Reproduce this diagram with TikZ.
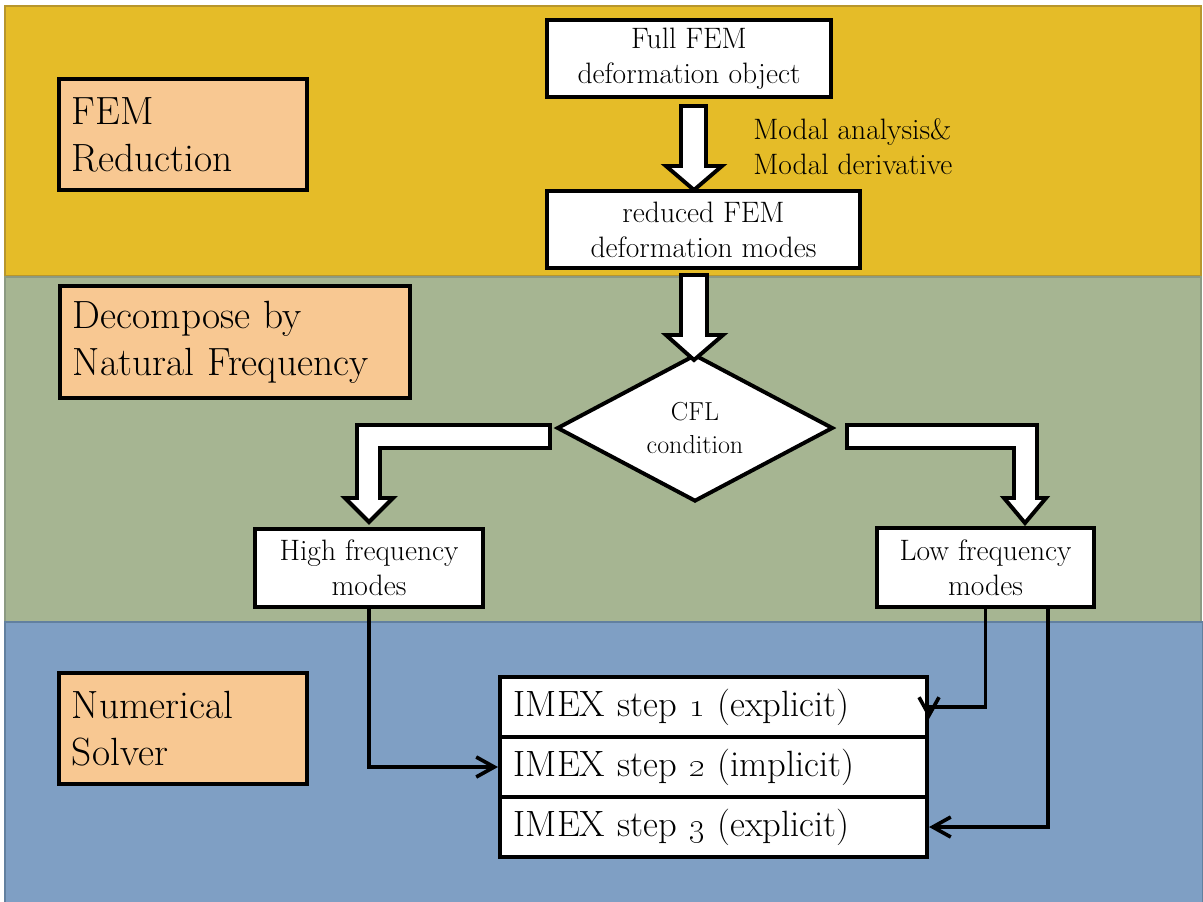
\documentclass[tikz,border=0pt]{standalone}
\usetikzlibrary{arrows.meta,calc,shapes.geometric}
\definecolor{bandY}{HTML}{E5BC28}
\definecolor{bandYline}{HTML}{B8962C}
\definecolor{bandG}{HTML}{A6B592}
\definecolor{bandGline}{HTML}{8C9A82}
\definecolor{bandB}{HTML}{7F9FC4}
\definecolor{bandBline}{HTML}{62809F}
\definecolor{tagfill}{HTML}{F8C892}
\begin{document}
\begin{tikzpicture}[x=0.025cm,y=-0.025cm,
  tagbox/.style={draw=black, fill=tagfill, line width=2.8pt, align=left,
    inner xsep=0.325cm, inner ysep=0pt, anchor=north west,
    font=\fontsize{28}{33.4}\selectfont},
  flowbox/.style={draw=black, fill=white, line width=2.8pt, align=center,
    inner sep=0pt, font=\fontsize{21}{25}\selectfont},
  imexbox/.style={draw=black, fill=white, line width=2.8pt, align=left,
    inner xsep=0.35cm, inner ysep=0pt, text width=9.975cm, minimum height=1.5cm,
    font=\fontsize{26}{30}\selectfont},
  blockarrow/.style={draw=black, fill=white, line width=2.8pt, line join=miter},
  conn/.style={draw=black, line width=2.6pt,
    -{Straight Barb[length=0.45cm,width=0.5cm]}},
]
\useasboundingbox (0,0) rectangle (1203,901);
% bands
\path[fill=bandY, draw=bandYline, line width=1.5pt] (5,6) rectangle (1201,276);
\path[fill=bandG, draw=bandGline, line width=1.5pt] (5,277) rectangle (1201,622);
\path[fill=bandB, draw=bandBline, line width=1.5pt] (5,622) rectangle (1203,903);

% tag boxes
\node[tagbox, text width=5.55cm, minimum height=2.775cm] (tfem) at (57,77) {FEM\\Reduction};
\node[tagbox, text width=8.1cm, minimum height=2.8cm] (tdec) at (58,284) {Decompose by\\Natural Frequency};
\node[tagbox, text width=5.55cm, minimum height=2.775cm] (tnum) at (57,671) {Numerical\\Solver};

% flow boxes
\node[flowbox, minimum width=7.1cm, minimum height=1.925cm] (full) at (689,58.5) {Full FEM\\deformation object};
\node[flowbox, minimum width=7.825cm, minimum height=1.925cm] (reduced) at (703.5,229.5) {reduced FEM\\deformation modes};
\node[anchor=north west, inner sep=0pt, align=left, font=\fontsize{21}{25}\selectfont] (modal) at (753,118.5) {Modal analysis\&\\Modal derivative};

\node[diamond, draw=black, fill=white, line width=2.8pt, minimum width=6.9cm, minimum height=3.3cm,
  inner sep=0pt, align=center, font=\fontsize{18.5}{22.8}\selectfont] (cfl) at (695,428) {CFL\\condition};

\node[flowbox, minimum width=5.7cm, minimum height=1.95cm] (high) at (369,568) {High frequency\\modes};
\node[flowbox, minimum width=5.425cm, minimum height=1.975cm] (low) at (985.5,567.5) {Low frequency\\modes};

\node[imexbox] (imex1) at (713.5,707) {IMEX step \oldstylenums{1} (explicit)};
\node[imexbox] (imex2) at (713.5,767) {IMEX step \oldstylenums{2} (implicit)};
\node[imexbox] (imex3) at (713.5,827) {IMEX step \oldstylenums{3} (explicit)};

% block arrows
\path[blockarrow] (681,106) -- (706,106) -- (706,166) -- (722,166) -- (694,190) -- (666,166) -- (681,166) -- cycle;
\path[blockarrow] (681,275) -- (707,275) -- (707,335) -- (723,335) -- (694,360) -- (666,335) -- (681,335) -- cycle;
\path[blockarrow] (550,425) -- (357,425) -- (357,498) -- (345,498) -- (369,522) -- (393,498) -- (380,498) -- (380,448) -- (550,448) -- cycle;
\path[blockarrow] (847,425) -- (1037,425) -- (1037,498) -- (1046,498) -- (1025,523) -- (1004,498) -- (1014,498) -- (1014,448) -- (847,448) -- cycle;

% connectors
\draw[conn] (high.south) |- (imex2.west);
\draw[conn] (low.south) |- (imex1.east) -- ++(0,12);
\coordinate (lowr) at ($(low.south)+(62.5,0)$);
\draw[conn] (lowr) |- (imex3.east);
\end{tikzpicture}
\end{document}
